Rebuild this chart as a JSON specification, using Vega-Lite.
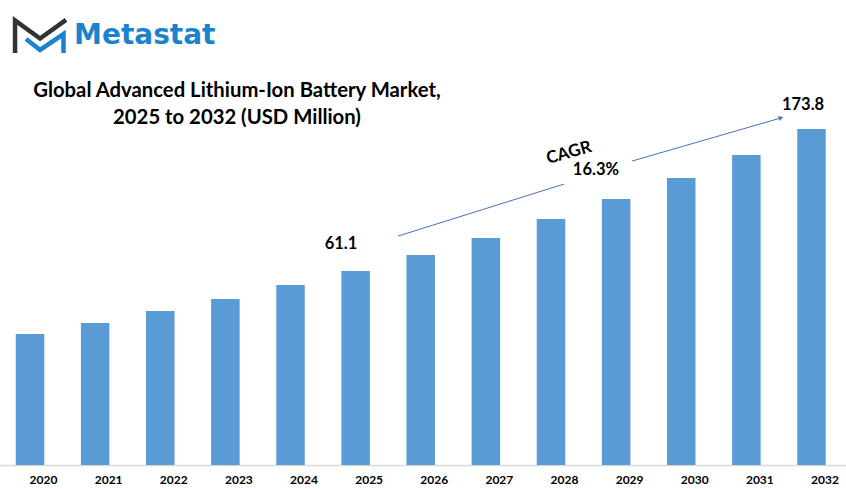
{
"$schema":"https://vega.github.io/schema/vega-lite/v6.json",
"width":846,"height":465,
"autosize":{"type":"none"},
"padding":{"left":0,"top":0,"right":0,"bottom":24},
"background":"white",
"view":{"stroke":null},
"title":{"text":["Global Advanced Lithium-Ion Battery Market,","2025 to 2032 (USD Million)"],"frame":"group","anchor":"start","align":"center","baseline":"top","dx":237,"dy":128,"offset":0,"font":"Lato","fontSize":20.3,"fontWeight":"bold","color":"#000000","lineHeight":26.5},
"datasets":{
"bars":[{"year":2020,"value":67.8},{"year":2021,"value":73.4},{"year":2022,"value":79.7},{"year":2023,"value":85.9},{"year":2024,"value":93.1},{"year":2025,"value":100.3},{"year":2026,"value":108.6},{"year":2027,"value":117.4},{"year":2028,"value":127.2},{"year":2029,"value":137.6},{"year":2030,"value":148.4},{"year":2031,"value":160.3},{"year":2032,"value":173.8}],
"arrow":[{"seg":"a","year":2025.651,"value":118.4},{"seg":"a","year":2028.2,"value":145.3},{"seg":"b","year":2029.244,"value":157.2},{"seg":"b","year":2031.532,"value":179.5}],
"head":[{"year":2031.532,"value":179.5}],
"labels":[{"year":2024.775,"value":114.3,"label":"61.1"},{"year":2031.87,"value":186.2,"label":"173.8"},{"year":2028.69,"value":152.6,"label":"16.3%"}],
"cagr":[{"year":2028.276,"value":161.4,"label":"CAGR"}],
"logoDark":[{"step":1,"year":2019.77,"value":213.1},{"step":2,"year":2019.77,"value":229.9},{"step":3,"year":2020.154,"value":220.6},{"step":4,"year":2020.553,"value":230.2}],
"logoBlue":[{"step":1,"year":2019.939,"value":220.3},{"step":2,"year":2020.154,"value":214.7},{"step":3,"year":2020.514,"value":222.9},{"step":4,"year":2020.514,"value":213.1}],
"brand":[{"year":2020.676,"value":221.9,"label":"Metastat"}]
},
"encoding":{
"x":{"field":"year","type":"quantitative","scale":{"domain":[2019.539,2032.53],"nice":false,"zero":false,"padding":0},
"axis":{"values":[2020,2021,2022,2023,2024,2025,2026,2027,2028,2029,2030,2031,2032],"format":"d","title":null,"grid":false,"ticks":false,"labelOffset":13,"labelFont":"Lato","labelFontSize":12,"labelFontWeight":"bold","labelColor":"#000000","labelPadding":9,"domainColor":"#d9d9d9","domainWidth":1.5,"labelFlush":false,"labelOverlap":false}},
"y":{"field":"value","type":"quantitative","scale":{"domain":[0,240.5],"nice":false},"axis":null}
},
"layer":[
{"data":{"name":"bars"},"mark":{"type":"bar","size":28.5,"color":"#5B9BD5"}},
{"data":{"name":"arrow"},"mark":{"type":"line","color":"#4472C4","strokeWidth":1},"encoding":{"detail":{"field":"seg"}}},
{"data":{"name":"head"},"mark":{"type":"point","shape":"triangle-up","angle":74,"size":28,"filled":true,"color":"#4472C4","opacity":1}},
{"data":{"name":"labels"},"mark":{"type":"text","font":"Lato","fontSize":16.5,"fontWeight":"bold","color":"#000000"},"encoding":{"text":{"field":"label"}}},
{"data":{"name":"cagr"},"mark":{"type":"text","font":"Lato","fontSize":17,"fontWeight":"bold","color":"#000000","angle":344},"encoding":{"text":{"field":"label"}}},
{"data":{"name":"logoDark"},"mark":{"type":"line","color":"#333333","strokeWidth":4.5,"strokeJoin":"miter"},"encoding":{"order":{"field":"step","type":"quantitative"}}},
{"data":{"name":"logoBlue"},"mark":{"type":"line","color":"#1B82CE","strokeWidth":4.5,"strokeJoin":"miter"},"encoding":{"order":{"field":"step","type":"quantitative"}}},
{"data":{"name":"brand"},"mark":{"type":"text","align":"left","font":"DejaVu Sans","fontSize":28,"fontWeight":"bold","color":"#1B82CE"},"encoding":{"text":{"field":"label"}}}
]
}
